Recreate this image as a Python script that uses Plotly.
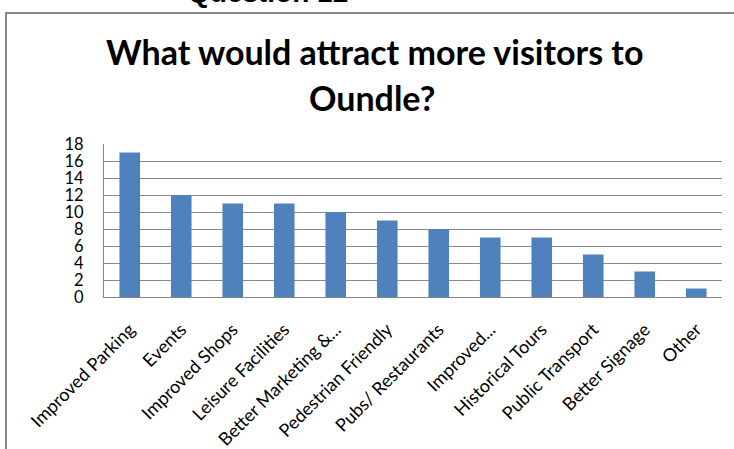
import plotly.graph_objects as go

categories = ["Improved Parking", "Events", "Improved Shops", "Leisure Facilities",
              "Better Marketing &...", "Pedestrian Friendly", "Pubs/ Restaurants",
              "Improved...", "Historical Tours", "Public Transport", "Better Signage", "Other"]
values = [17, 12, 11, 11, 10, 9, 8, 7, 7, 5, 3, 1]
y_ticks = [0, 2, 4, 6, 8, 10, 12, 14, 16, 18]

W, H = 734, 449
L, R, T, B = 104, 12, 144, 152
pw, ph = W - L - R, H - T - B

def px_x(px):
    return (px - L) / pw

def px_y(py):
    return 1 + (T - py) / ph

fig = go.Figure(go.Bar(x=categories, y=values, marker_color="#4F81BD",
                       marker_line_width=0))

fig.update_layout(
    width=W, height=H,
    margin=dict(l=L, r=R, t=T, b=B, autoexpand=False),
    paper_bgcolor="white", plot_bgcolor="white",
    bargap=0.6,
    showlegend=False,
    font=dict(family="Lato", color="black"),
)
fig.update_xaxes(tickangle=-45, tickfont=dict(size=18, family="Lato"),
                 showline=True, linecolor="#868686", linewidth=1,
                 ticks="", ticklabelstandoff=14, mirror=False)
fig.update_yaxes(range=[0, 18], tickvals=y_ticks, tickfont=dict(size=16.5, family="Lato"),
                 showgrid=True, gridcolor="#8a8a8a", gridwidth=1,
                 showline=True, linecolor="#868686", linewidth=1,
                 ticks="", ticklabelstandoff=16, zeroline=False)

# chart box border
fig.add_shape(type="path", xref="paper", yref="paper",
              path=f"M {px_x(6)} {px_y(460)} L {px_x(6)} {px_y(13)} L {px_x(740)} {px_y(13)}",
              line=dict(color="#878787", width=2))

fig.add_annotation(text="<b>Question 12</b>", xref="paper", yref="paper",
                   x=px_x(268), y=px_y(-8), xanchor="center", yanchor="middle",
                   showarrow=False, font=dict(size=28, family="Liberation Sans", color="black"))
fig.add_annotation(text="<b>What would attract more visitors to</b>", xref="paper", yref="paper",
                   x=px_x(374), y=px_y(52), xanchor="center", yanchor="middle",
                   showarrow=False, font=dict(size=34, family="Lato", color="black"))
fig.add_annotation(text="<b>Oundle?</b>", xref="paper", yref="paper",
                   x=px_x(372), y=px_y(97), xanchor="center", yanchor="middle",
                   showarrow=False, font=dict(size=34, family="Lato", color="black"))

fig.write_html("out.html", config={"displayModeBar": False},
               post_script="document.body.style.margin='0';document.body.style.padding='0';")
